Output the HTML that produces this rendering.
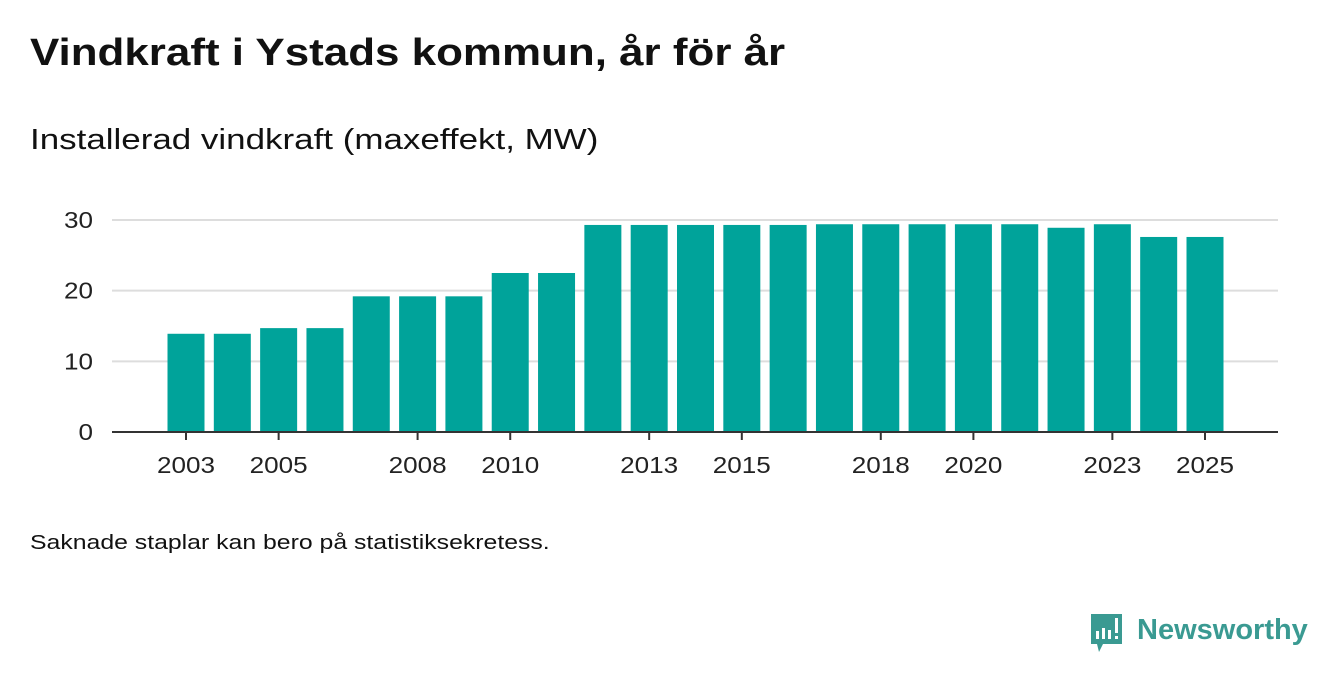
<!DOCTYPE html>
<html><head><meta charset="utf-8"><style>
body{margin:0;width:1340px;height:685px;background:#fff;font-family:"Liberation Sans","DejaVu Sans",sans-serif;color:#111;position:relative;overflow:hidden}
.t{position:absolute;white-space:nowrap;transform-origin:left top}
</style></head><body>
<div class="t" style="left:30px;top:32px;font-size:38px;font-weight:bold;transform:scaleX(1.156)">Vindkraft i Ystads kommun, år för år</div>
<div class="t" style="left:30px;top:124px;font-size:29px;transform:scaleX(1.205)">Installerad vindkraft (maxeffekt, MW)</div>
<div class="t" style="left:30px;top:532px;font-size:20px;transform:scaleX(1.24)">Saknade staplar kan bero på statistiksekretess.</div>
<svg width="1340" height="685" style="position:absolute;left:0;top:0" id="chart"></svg>
<div style="position:absolute;left:1089px;top:614px;width:220px;height:44px">
<svg width="36" height="44" style="position:absolute;left:0;top:0"><path d="M2 0H33V30H14L10 38L8 30H2Z" fill="#3a9a92"/><rect x="7" y="17" width="3" height="8" fill="#fff"/><rect x="13" y="14" width="3" height="11" fill="#fff"/><rect x="19" y="16" width="3" height="9" fill="#fff"/><rect x="26" y="4" width="3" height="15" fill="#fff"/><rect x="26" y="22" width="3" height="3" fill="#fff"/></svg>
<div class="t" style="left:48px;top:0px;font-size:29px;font-weight:bold;color:#3a9a92">Newsworthy</div></div>
<script>
const years=[2003,2004,2005,2006,2007,2008,2009,2010,2011,2012,2013,2014,2015,2016,2017,2018,2019,2020,2021,2022,2023,2024,2025];
const values=[13.9,13.9,14.7,14.7,19.2,19.2,19.2,22.5,22.5,29.3,29.3,29.3,29.3,29.3,29.4,29.4,29.4,29.4,29.4,28.9,29.4,27.6,27.6];
const yTicks=[0,10,20,30];
const xLabels=[2003,2005,2008,2010,2013,2015,2018,2020,2023,2025];
const svg=document.getElementById('chart');const NS='http://www.w3.org/2000/svg';
const y=v=>432-v*(212/30);const x=yr=>186+(yr-2003)*(1019/22);
function mk(t,a){const e=document.createElementNS(NS,t);for(const k in a)e.setAttribute(k,a[k]);svg.appendChild(e);return e;}
yTicks.forEach(v=>{if(v>0){const l=mk('line',{x1:112,x2:1278,y1:y(v),y2:y(v),stroke:'#ddd','stroke-width':2});}
const s=String(v);const t=mk('text',{x:93,y:y(v)+8,'text-anchor':'end','font-size':23,fill:'#222','font-family':'Liberation Sans, sans-serif',textLength:s.length*14.5,lengthAdjust:'spacingAndGlyphs'});t.textContent=s;});
years.forEach((yr,i)=>{const r=mk('rect',{x:x(yr)-18.5,y:y(values[i]),width:37,height:432-y(values[i]),fill:'#00a39a'});});
const ax=mk('line',{x1:112,x2:1278,y1:432,y2:432,stroke:'#333','stroke-width':2});
xLabels.forEach(yr=>{const tk=mk('line',{x1:x(yr),x2:x(yr),y1:432,y2:440,stroke:'#333','stroke-width':2});
const t=mk('text',{x:x(yr),y:473,'text-anchor':'middle','font-size':23,fill:'#222','font-family':'Liberation Sans, sans-serif',textLength:58,lengthAdjust:'spacingAndGlyphs'});t.textContent=yr;});
</script>
</body></html>
